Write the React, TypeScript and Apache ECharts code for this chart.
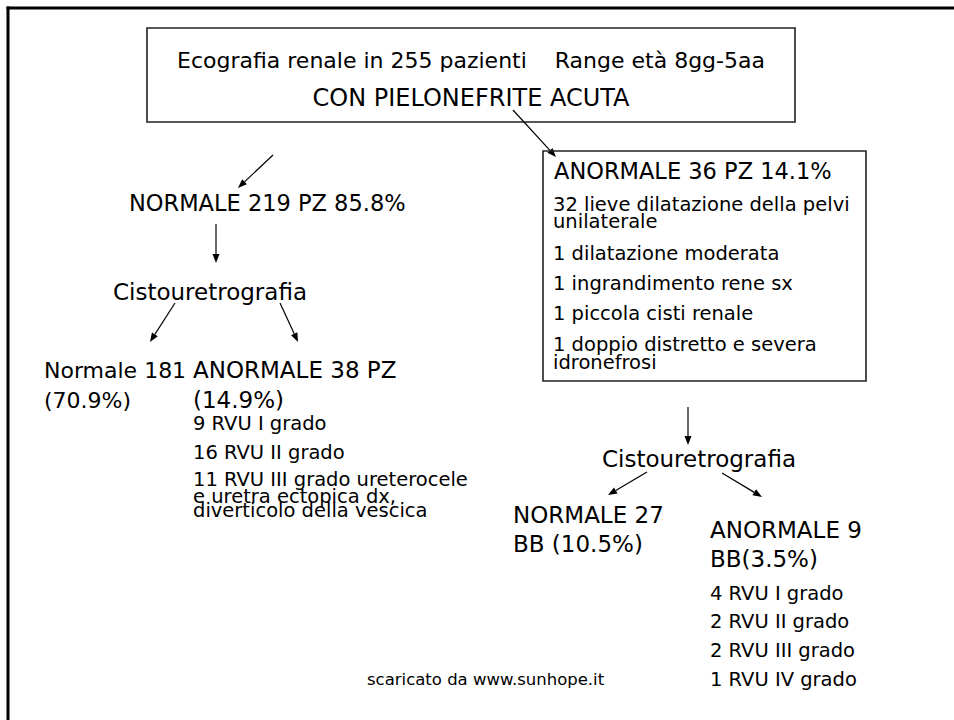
import React, { useEffect, useRef } from "react";
import * as echarts from "echarts";

// ---------- content ----------
const titleLines = ["Ecografia renale in 255 pazienti    Range età 8gg-5aa", "CON PIELONEFRITE ACUTA"];
const usNormal = "NORMALE 219 PZ 85.8%";
const usAbnormal = "ANORMALE 36 PZ 14.1%";
const usAbnormalFindings = [
  "32 lieve dilatazione della pelvi",
  "unilaterale",
  "1 dilatazione moderata",
  "1 ingrandimento rene sx",
  "1 piccola cisti renale",
  "1 doppio distretto e severa",
  "idronefrosi",
];
const vcugLabel = "Cistouretrografia";
const leftNormal = ["Normale 181", "(70.9%)"];
const leftAbnormal = ["ANORMALE 38 PZ", "(14.9%)"];
const leftAbnormalFindings = [
  "9 RVU I grado",
  "16 RVU II grado",
  "11 RVU III grado ureterocele",
  "e uretra ectopica dx,",
  "diverticolo della vescica",
];
const rightNormal = ["NORMALE 27", "BB (10.5%)"];
const rightAbnormal = ["ANORMALE 9", "BB(3.5%)"];
const rightAbnormalFindings = ["4 RVU I grado", "2 RVU II grado", "2 RVU III grado", "1 RVU IV grado"];
const footer = "scaricato da www.sunhope.it";

// ---------- layout ----------
const FONT = "'Comic Sans MS', 'DejaVu Sans', sans-serif";
const BIG = 23;
const SMALL = 19.5;
const usFindingsY = [204, 221, 253, 283, 313, 344, 362];
const leftFindingsY = [423, 452, 479, 496, 510];
const rightFindingsY = [593, 621, 650, 679];

function txt(text: string, x: number, y: number, size: number, align = "left") {
  return {
    type: "text",
    silent: true,
    style: {
      text,
      x,
      y,
      fill: "#000",
      fontSize: size,
      fontFamily: FONT,
      align,
      verticalAlign: "middle",
    },
  };
}

function arrow(x1: number, y1: number, x2: number, y2: number) {
  const dx = x2 - x1;
  const dy = y2 - y1;
  const len = Math.sqrt(dx * dx + dy * dy);
  const ux = dx / len;
  const uy = dy / len;
  const hl = 9;
  const hw = 3.5;
  const bx = x2 - ux * hl;
  const by = y2 - uy * hl;
  return [
    {
      type: "line",
      silent: true,
      shape: { x1, y1, x2: bx, y2: by },
      style: { stroke: "#000", lineWidth: 1.2 },
    },
    {
      type: "polygon",
      silent: true,
      shape: {
        points: [
          [x2, y2],
          [bx - uy * hw, by + ux * hw],
          [bx + uy * hw, by - ux * hw],
        ],
      },
      style: { fill: "#000" },
    },
  ];
}

export default function App() {
  const ref = useRef<HTMLDivElement>(null);
  useEffect(() => {
    document.body.style.margin = "0";
    if (!ref.current) return;
    const chart = echarts.init(ref.current, null, { renderer: "svg" });
    const elements: any[] = [];
    // outer frame (top and left edges)
    elements.push({ type: "line", silent: true, shape: { x1: 6.5, y1: 8, x2: 954, y2: 8 }, style: { stroke: "#000", lineWidth: 3 } });
    elements.push({ type: "line", silent: true, shape: { x1: 8, y1: 6.5, x2: 8, y2: 720 }, style: { stroke: "#000", lineWidth: 3 } });
    // header box
    elements.push({ type: "rect", silent: true, shape: { x: 147, y: 28, width: 648, height: 94 }, style: { fill: "#fff", stroke: "#222", lineWidth: 1.6 } });
    elements.push(txt(titleLines[0], 471, 60, 22, "center"));
    elements.push(txt(titleLines[1], 471, 98, 24, "center"));
    // arrows from header
    elements.push(...arrow(273, 155, 238, 188));
    elements.push(...arrow(513, 110, 556, 157));
    // right ultrasound box
    elements.push({ type: "rect", silent: true, shape: { x: 543, y: 151, width: 323, height: 230 }, style: { fill: "none", stroke: "#222", lineWidth: 1.6 } });
    elements.push(txt(usAbnormal, 554, 171, 22.5));
    usAbnormalFindings.forEach((t, i) => elements.push(txt(t, 553, usFindingsY[i], SMALL)));
    // left branch
    elements.push(txt(usNormal, 129, 203, 22.5));
    elements.push(...arrow(216, 224, 216, 263));
    elements.push(txt(vcugLabel, 113, 292, BIG));
    elements.push(...arrow(175, 303, 150, 342));
    elements.push(...arrow(280, 303, 298, 342));
    leftNormal.forEach((t, i) => elements.push(txt(t, 44, 370 + i * 30, 22)));
    leftAbnormal.forEach((t, i) => elements.push(txt(t, 193, 370 + i * 30, BIG)));
    leftAbnormalFindings.forEach((t, i) => elements.push(txt(t, 193, leftFindingsY[i], SMALL)));
    // right branch
    elements.push(...arrow(688, 407, 688, 445));
    elements.push(txt(vcugLabel, 602, 459, BIG));
    elements.push(...arrow(647, 472, 608, 495));
    elements.push(...arrow(722, 473, 762, 497));
    rightNormal.forEach((t, i) => elements.push(txt(t, 513, 515 + i * 29, BIG)));
    rightAbnormal.forEach((t, i) => elements.push(txt(t, 710, 530 + i * 29, BIG)));
    rightAbnormalFindings.forEach((t, i) => elements.push(txt(t, 710, rightFindingsY[i], SMALL)));
    // footer
    elements.push(txt(footer, 367, 679, 16.5));

    chart.setOption({
      animation: false,
      backgroundColor: "#fff",
      graphic: { elements },
    });
    return () => chart.dispose();
  }, []);
  return <div ref={ref} style={{ width: 954, height: 720 }} />;
}
